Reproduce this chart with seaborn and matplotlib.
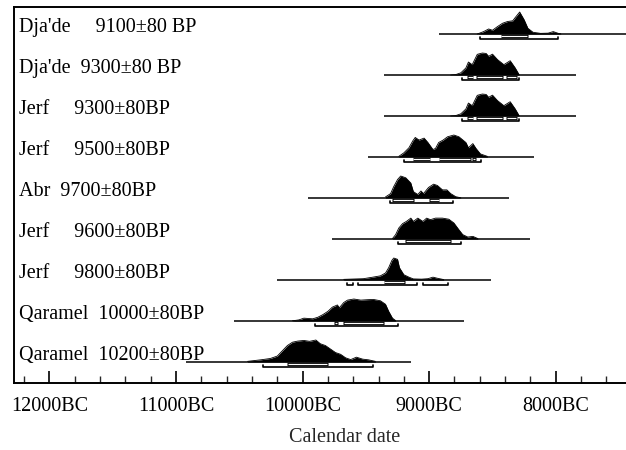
import matplotlib
matplotlib.use("Agg")
import matplotlib.pyplot as plt
import seaborn as sns
import pandas as pd
from matplotlib.ticker import MultipleLocator, FuncFormatter

# row labels, top to bottom
labels = ["Dja'de     9100\u00b180 BP",
          "Dja'de  9300\u00b180 BP",
          "Jerf     9300\u00b180BP",
          "Jerf     9500\u00b180BP",
          "Abr  9700\u00b180BP",
          "Jerf     9600\u00b180BP",
          "Jerf     9800\u00b180BP",
          "Qaramel  10000\u00b180BP",
          "Qaramel  10200\u00b180BP"]

# calibrated probability curves (years cal BC, relative probability)
dja9100_bc = [8620, 8570, 8530, 8500, 8460, 8420, 8380, 8340, 8320, 8285, 8250, 8220, 8180, 8120, 8060, 8020, 7980, 7960]
dja9100_p = [0.0, 0.11, 0.23, 0.17, 0.34, 0.49, 0.57, 0.60, 0.75, 1.0, 0.65, 0.26, 0.08, 0.03, 0.04, 0.11, 0.03, 0.01]

c9300_bc = [8830, 8790, 8750, 8710, 8690, 8660, 8620, 8580, 8550, 8530, 8500, 8460, 8410, 8360, 8320, 8290]
c9300_p = [0.0, 0.02, 0.1, 0.32, 0.59, 0.47, 0.94, 1.0, 0.98, 0.85, 0.95, 0.7, 0.47, 0.65, 0.32, 0.02]

jerf9500_bc = [9240, 9200, 9160, 9130, 9110, 9080, 9040, 9010, 8970, 8950, 8925, 8890, 8855, 8805, 8765, 8710, 8690, 8655, 8630, 8595, 8540]
jerf9500_p = [0.03, 0.19, 0.42, 0.73, 0.89, 0.77, 0.86, 0.66, 0.34, 0.39, 0.66, 0.77, 0.92, 1.0, 0.92, 0.66, 0.42, 0.61, 0.39, 0.14, 0.03]

abr9700_bc = [9345, 9305, 9280, 9250, 9225, 9185, 9145, 9125, 9090, 9065, 9045, 9005, 8965, 8935, 8895, 8860, 8830, 8790, 8750]
abr9700_p = [0.05, 0.2, 0.52, 0.84, 1.0, 0.92, 0.68, 0.29, 0.16, 0.32, 0.2, 0.48, 0.63, 0.57, 0.37, 0.37, 0.2, 0.06, 0.01]

jerf9600_bc = [9290, 9265, 9240, 9210, 9180, 9145, 9125, 9090, 9050, 9020, 8990, 8950, 8895, 8845, 8805, 8765, 8735, 8695, 8655, 8615]
jerf9600_p = [0.02, 0.2, 0.5, 0.7, 0.8, 0.95, 0.8, 0.95, 0.8, 0.95, 0.88, 0.95, 0.95, 0.9, 0.73, 0.42, 0.2, 0.09, 0.12, 0.02]

jerf9800_bc = [9675, 9520, 9445, 9385, 9345, 9320, 9295, 9280, 9250, 9235, 9200, 9160, 9125, 9060, 9010, 8970, 8935, 8885]
jerf9800_p = [0.03, 0.06, 0.13, 0.19, 0.32, 0.56, 0.89, 1.0, 0.94, 0.56, 0.24, 0.13, 0.05, 0.04, 0.06, 0.13, 0.08, 0.02]

qar10000_bc = [10080, 10030, 9990, 9920, 9880, 9840, 9800, 9765, 9725, 9710, 9675, 9645, 9595, 9540, 9485, 9440, 9385, 9345, 9320, 9290, 9265]
qar10000_p = [0.01, 0.05, 0.13, 0.1, 0.17, 0.29, 0.44, 0.63, 0.73, 0.6, 0.84, 0.95, 1.0, 0.95, 0.97, 0.98, 0.92, 0.76, 0.44, 0.13, 0.02]

qar10200_bc = [10435, 10330, 10255, 10200, 10160, 10120, 10080, 10040, 9990, 9945, 9895, 9860, 9820, 9780, 9740, 9700, 9660, 9620, 9575, 9525, 9480, 9425]
qar10200_p = [0.03, 0.1, 0.16, 0.27, 0.51, 0.75, 0.9, 0.95, 0.98, 0.94, 1.0, 0.83, 0.75, 0.59, 0.43, 0.35, 0.19, 0.11, 0.22, 0.13, 0.1, 0.03]

# extent of each row's base line (cal BC)
line_start = [8925, 9360, 9360, 9480, 9960, 9765, 10200, 10545, 10925]
line_end = [7350, 7840, 7840, 8175, 8370, 8200, 8515, 8725, 9145]

# 68.2% and 95.4% ranges (cal BC)
sigma1 = [[(8435, 8220)],
          [(8700, 8650), (8630, 8420), (8390, 8310)],
          [(8700, 8650), (8630, 8420), (8390, 8310)],
          [(9130, 8990), (8925, 8670), (8660, 8630)],
          [(9290, 9120), (9000, 8920)],
          [(9190, 8830)],
          [(9360, 9190)],
          [(9750, 9720), (9680, 9360)],
          [(10120, 9800)]]
sigma2 = [[(8595, 7985)],
          [(8740, 8290)],
          [(8740, 8290)],
          [(9200, 8590)],
          [(9310, 8810)],
          [(9250, 8750)],
          [(9650, 9600), (9560, 9100), (9050, 8850)],
          [(9900, 9250)],
          [(10310, 9440)]]

curves = [(dja9100_bc, dja9100_p), (c9300_bc, c9300_p), (c9300_bc, c9300_p),
          (jerf9500_bc, jerf9500_p), (abr9700_bc, abr9700_p), (jerf9600_bc, jerf9600_p),
          (jerf9800_bc, jerf9800_p), (qar10000_bc, qar10000_p), (qar10200_bc, qar10200_p)]


def create_multiplot():
    """Stacked calibrated date distributions, OxCal style"""
    sns.set_theme(style="ticks")
    plt.rcParams['font.family'] = ['Liberation Serif', 'DejaVu Serif']

    fig = plt.figure(figsize=(6.26, 4.5), dpi=100)
    ax = fig.add_axes([14 / 626, 1 - 383 / 450, 662 / 626, 376 / 450])

    peak = 22 / 41
    for k, (bc, p) in enumerate(curves):
        base = -k
        df = pd.DataFrame({'x': [-v for v in bc], 'y': [base + v * peak for v in p]})
        ax.hlines(base, -line_start[k], -line_end[k], color='black', lw=1.1, zorder=2)
        ax.fill_between(df['x'], base, df['y'], color='black', lw=0, zorder=3)
        sns.lineplot(data=df, x='x', y='y', color='black', lw=0.6, ax=ax, sort=False, zorder=3)

        y1 = base - 0.05
        for a, b in sigma1[k]:
            ax.hlines(y1, -a, -b, color='black', lw=2.4, zorder=4)
            ax.hlines(y1, -a + 6, -b - 6, color='white', lw=0.9, zorder=5)
        y2 = base - 0.13
        for a, b in sigma2[k]:
            ax.plot([-a, -a, -b, -b], [y2 + 0.05, y2, y2, y2 + 0.05], color='black', lw=1.2, zorder=4)

        ax.text(0.0076, base + 0.04, labels[k], transform=ax.get_yaxis_transform(),
                ha='left', va='baseline', fontsize=14.5, color='black')

    ax.set_xlim(-12280, -7050)
    ax.set_ylim(-8.512, 0.659)
    ax.xaxis.set_major_locator(MultipleLocator(1000))
    ax.xaxis.set_minor_locator(MultipleLocator(200))
    ax.xaxis.set_major_formatter(FuncFormatter(lambda v, pos: f'{int(-v)}BC'))
    ax.tick_params(axis='x', which='major', direction='in', length=9, width=1.2,
                   labelsize=14.5, pad=10, colors='black')
    ax.tick_params(axis='x', which='minor', direction='in', length=5, width=1.0)
    ax.tick_params(axis='y', left=False, labelleft=False)
    ax.set_ylabel('')
    ax.set_xlabel('Calendar date', fontsize=14.5, labelpad=9)

    for side in ['left', 'top', 'bottom']:
        ax.spines[side].set_color('black')
        ax.spines[side].set_linewidth(1.4)
    ax.spines['right'].set_visible(False)

    fig.savefig('out.png', dpi=100)
    plt.close(fig)


if __name__ == "__main__":
    create_multiplot()
